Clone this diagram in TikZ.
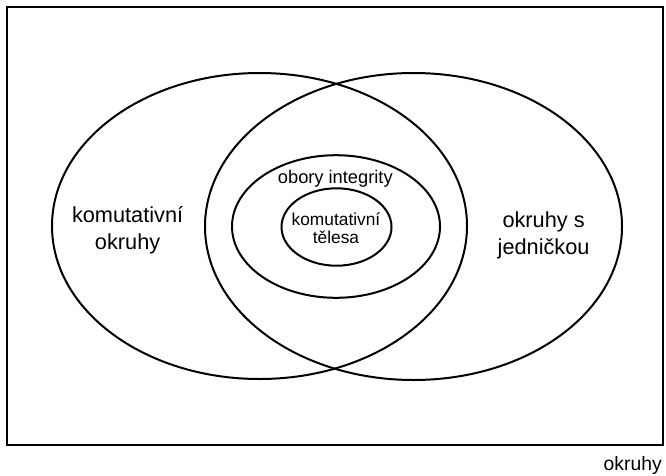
\documentclass[tikz,border=0pt]{standalone}
\usepackage{fontspec}
\setmainfont{Liberation Sans}

\begin{document}
\begin{tikzpicture}[x=0.75pt,y=0.75pt,yscale=-1,xscale=1,
  setline/.style={line width=1.5pt},
  biglabel/.style={inner sep=0pt,align=center,font=\fontsize{16.3}{19.9}\selectfont},
  midlabel/.style={inner sep=0pt,align=center,font=\fontsize{13.7}{16}\selectfont},
  smalllabel/.style={inner sep=0pt,align=center,font=\fontsize{13}{13.7}\selectfont}]
\useasboundingbox (0,0) rectangle (666,475);
% universe
\draw[setline] (6.5,6.5) rectangle (663,445);
\node (universe) [anchor=base east,inner sep=0pt,font=\fontsize{14.5}{17}\selectfont] at (662,470) {okruhy};
% sets
\draw[setline] (259.5,226) ellipse [x radius=207.5, y radius=153];
\draw[setline] (413.5,226.5) ellipse [x radius=208.5, y radius=153.5];
\draw[setline] (336,226.5) ellipse [x radius=104, y radius=71.3];
\draw[setline] (336.5,227) ellipse [x radius=55, y radius=38.7];
% labels (base = last line)
\node (commut) [biglabel,anchor=base] at (127.6,249.3) {komutativní\\okruhy};
\node (unital) [biglabel,anchor=base] at (543.6,254.3) {okruhy s\\jedničkou};
\node (domain) [midlabel,anchor=base] at (335.3,183.3) {obory integrity};
\node (field) [smalllabel,anchor=base] at (336,243.3) {komutativní\\tělesa};
\end{tikzpicture}
\end{document}
